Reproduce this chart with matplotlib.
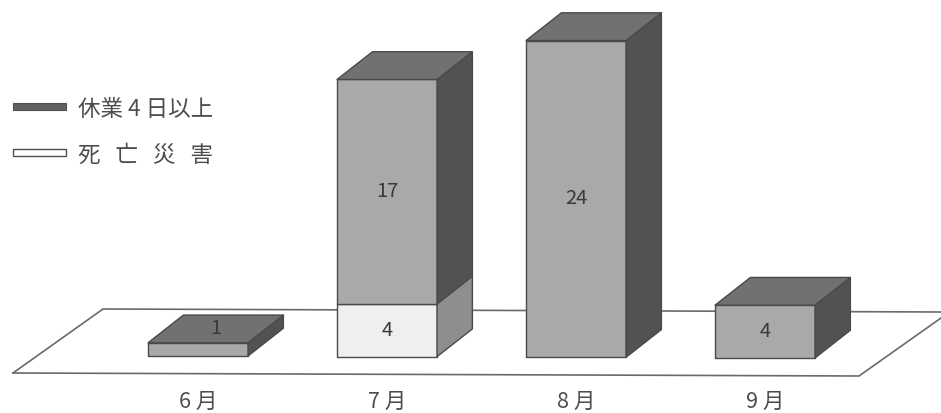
import matplotlib
matplotlib.use('Agg')
import matplotlib.pyplot as plt
from matplotlib.patches import Polygon, Rectangle

plt.rcParams['font.family'] = ['Noto Sans CJK JP', 'DejaVu Sans']

months = ['6 月', '7 月', '8 月', '9 月']
kyugyo = [1, 17, 24, 4]     # 休業4日以上
shibo = [0, 4, 0, 0]        # 死亡災害
legend_labels = ['休業 4 日以上', '死   亡   災   害']

W, H = 941, 413
BAR_W = 0.529
DEPTH_X = 0.187
DEPTH_Y = 2.1
TILT = -0.05     # the baseline sinks slightly to the right
EDGE = '#4a4a4a'
TEXT = '#4d4d4d'
NUM = '#3a3a3a'

# shades for front, top, side of each series
GREY = ('#a9a9a9', '#717171', '#525252')
LIGHT = ('#efefef', '#8a8a8a', '#8e8e8e')


def face(ax, pts, color):
    ax.add_patch(Polygon(pts, closed=True, facecolor=color, edgecolor=EDGE, lw=1.0, joinstyle='round'))


def block(ax, x, bottom, height, shades, top_face=True):
    left = x - BAR_W / 2
    right = x + BAR_W / 2
    top = bottom + height
    face(ax, [(left, bottom), (right, bottom), (right, top), (left, top)], shades[0])
    face(ax, [(right, bottom), (right + DEPTH_X, bottom + DEPTH_Y),
              (right + DEPTH_X, top + DEPTH_Y), (right, top)], shades[2])
    if top_face:
        face(ax, [(left, top), (right, top), (right + DEPTH_X, top + DEPTH_Y),
                  (left + DEPTH_X, top + DEPTH_Y)], shades[1])


fig = plt.figure(figsize=(W / 100, H / 100), dpi=100, facecolor='white')

# floor and legend are laid out in pixel units
deco = fig.add_axes([0, 0, 1, 1])
deco.set_xlim(0, W)
deco.set_ylim(H, 0)
deco.axis('off')
deco.plot([13, 103, 941], [373, 309, 312], color='#6a6a6a', lw=1.2)
deco.plot([13, 859, 941], [373, 376, 318], color='#6a6a6a', lw=1.2)

deco.add_patch(Rectangle((13, 103), 53, 7, facecolor='#606060', edgecolor='#505050', lw=0.8))
deco.add_patch(Rectangle((13, 149), 53, 7, facecolor='white', edgecolor='#505050', lw=1.0))
deco.text(78, 109, legend_labels[0], fontsize=16.2, color=TEXT, va='center', ha='left')
deco.text(78, 155, legend_labels[1], fontsize=16.2, color=TEXT, va='center', ha='left')

# bars: x in category index, y in counts
ax = fig.add_axes([0, 0, 1, 1])
ax.patch.set_alpha(0)
ax.set_xlim(-1.048, 3.931)
ax.set_ylim(-4.32, 26.97)
ax.axis('off')

for i, month in enumerate(months):
    base = i * TILT
    if shibo[i] > 0:
        block(ax, i, base, shibo[i], LIGHT, top_face=False)
        ax.text(i, base + shibo[i] / 2, str(shibo[i]), ha='center', va='center', fontsize=14.5, color=NUM)
    start = base + shibo[i]
    block(ax, i, start, kyugyo[i], GREY)
    if kyugyo[i] == 1:
        # too thin for the front face, so the number sits on the top
        ax.text(i + DEPTH_X / 2, start + kyugyo[i] + DEPTH_Y / 2, str(kyugyo[i]), ha='center', va='center',
                fontsize=14.5, color=NUM)
    else:
        ax.text(i, start + kyugyo[i] / 2, str(kyugyo[i]), ha='center', va='center', fontsize=14.5, color=NUM)
    ax.text(i, -3.5, month, ha='center', va='center', fontsize=15.5, color=TEXT)

fig.savefig('out.png', dpi=100)
